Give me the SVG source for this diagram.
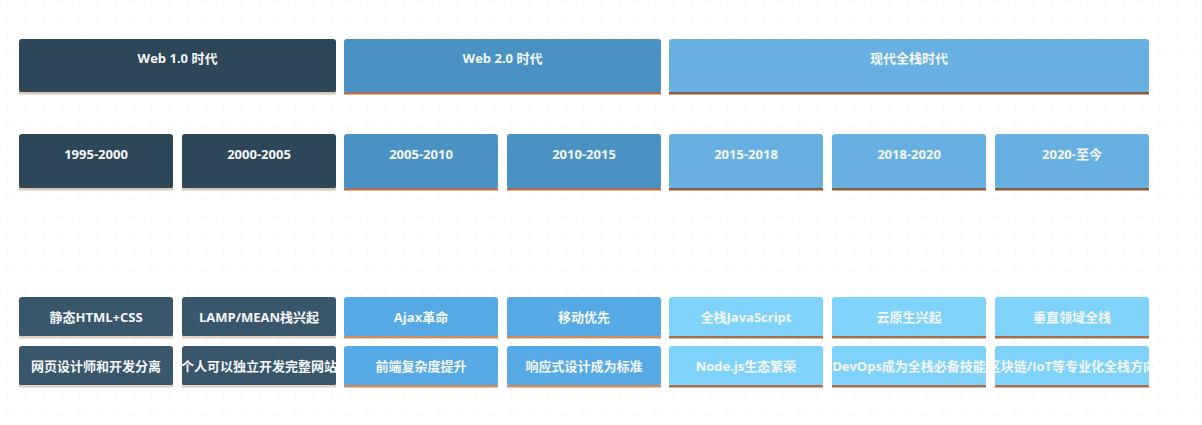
<svg xmlns="http://www.w3.org/2000/svg" width="1202" height="425" viewBox="0 0 1202 425">
<defs>
<pattern id="dots" x="0" y="0" width="18" height="18" patternUnits="userSpaceOnUse">
<circle cx="7.7" cy="1.3" r="1" fill="#f0f0f0"/>
</pattern>
<clipPath id="c1"><rect x="182" y="346" width="154" height="40"/></clipPath>
<clipPath id="c2"><rect x="832" y="346" width="154" height="40"/></clipPath>
<clipPath id="c3"><rect x="995" y="346" width="154" height="40"/></clipPath>
</defs>
<style>
.t{font-family:"Open Sans","Noto Sans CJK SC",sans-serif;font-size:13px;font-weight:bold;fill:#f4f7fa;text-anchor:middle;dominant-baseline:central}
.d1{fill:#2d4759}.m1{fill:#4a92c3}.l1{fill:#68b0e1}
.d2{fill:#3a566a}.m2{fill:#55aae6}.l2{fill:#7fd3fb}
.bd{fill:#d6c7bc}.bm{fill:#b0714c}.bl{fill:#8e5a3a}
.bd2{fill:#e6cfc0}.bm2{fill:#d28c5c}.bl2{fill:#a8704a}
</style>
<rect width="1202" height="425" fill="#ffffff"/>
<rect width="1202" height="425" fill="url(#dots)"/>

<g id="connectors">
<line x1="96" y1="188" x2="96" y2="191" stroke="#ffffff" stroke-width="1"/>
<line x1="259" y1="188" x2="259" y2="191" stroke="#ffffff" stroke-width="1"/>
<line x1="421" y1="188" x2="421" y2="191" stroke="#ffffff" stroke-width="1"/>
<line x1="584" y1="188" x2="584" y2="191" stroke="#ffffff" stroke-width="1"/>
<line x1="746" y1="188" x2="746" y2="191" stroke="#ffffff" stroke-width="1"/>
<line x1="909" y1="188" x2="909" y2="191" stroke="#ffffff" stroke-width="1"/>
<line x1="1072" y1="188" x2="1072" y2="191" stroke="#ffffff" stroke-width="1"/>
</g>

<!-- Row 1 -->
<g id="era-web1">
<rect class="d1" x="19" y="39" width="317" height="54" rx="3"/>
<rect class="bd" x="19" y="92" width="317" height="2.5"/>
<text class="t" x="177.5" y="58">Web 1.0 时代</text>
</g>
<g id="era-web2">
<rect class="m1" x="344" y="39" width="317" height="54" rx="3"/>
<rect class="bm" x="344" y="92" width="317" height="2.5"/>
<text class="t" x="502.5" y="58">Web 2.0 时代</text>
</g>
<g id="era-modern">
<rect class="l1" x="669" y="39" width="480" height="54" rx="3"/>
<rect class="bl" x="669" y="92" width="480" height="2.5"/>
<text class="t" x="909" y="58">现代全栈时代</text>
</g>

<!-- Row 2 -->
<g id="p1995">
<rect class="d1" x="19" y="134" width="154" height="55" rx="3"/>
<rect class="bd" x="19" y="188" width="154" height="2.5"/>
<text class="t" x="96" y="153.5">1995-2000</text>
</g>
<g id="p2000">
<rect class="d1" x="182" y="134" width="154" height="55" rx="3"/>
<rect class="bd" x="182" y="188" width="154" height="2.5"/>
<text class="t" x="259" y="153.5">2000-2005</text>
</g>
<g id="p2005">
<rect class="m1" x="344" y="134" width="154" height="55" rx="3"/>
<rect class="bm" x="344" y="188" width="154" height="2.5"/>
<text class="t" x="421" y="153.5">2005-2010</text>
</g>
<g id="p2010">
<rect class="m1" x="507" y="134" width="154" height="55" rx="3"/>
<rect class="bm" x="507" y="188" width="154" height="2.5"/>
<text class="t" x="584" y="153.5">2010-2015</text>
</g>
<g id="p2015">
<rect class="l1" x="669" y="134" width="154" height="55" rx="3"/>
<rect class="bl" x="669" y="188" width="154" height="2.5"/>
<text class="t" x="746" y="153.5">2015-2018</text>
</g>
<g id="p2018">
<rect class="l1" x="832" y="134" width="154" height="55" rx="3"/>
<rect class="bl" x="832" y="188" width="154" height="2.5"/>
<text class="t" x="909" y="153.5">2018-2020</text>
</g>
<g id="p2020">
<rect class="l1" x="995" y="134" width="154" height="55" rx="3"/>
<rect class="bl" x="995" y="188" width="154" height="2.5"/>
<text class="t" x="1072" y="153.5">2020-至今</text>
</g>

<!-- Row 3 -->
<g id="f1">
<rect class="d2" x="19" y="297" width="154" height="40" rx="3"/>
<rect class="bd2" x="19" y="336" width="154" height="2.5"/>
<text class="t" x="96" y="316.5">静态HTML+CSS</text>
</g>
<g id="f2">
<rect class="d2" x="182" y="297" width="154" height="40" rx="3"/>
<rect class="bd2" x="182" y="336" width="154" height="2.5"/>
<text class="t" x="259" y="316.5">LAMP/MEAN栈兴起</text>
</g>
<g id="f3">
<rect class="m2" x="344" y="297" width="154" height="40" rx="3"/>
<rect class="bm2" x="344" y="336" width="154" height="2.5"/>
<text class="t" x="421" y="316.5">Ajax革命</text>
</g>
<g id="f4">
<rect class="m2" x="507" y="297" width="154" height="40" rx="3"/>
<rect class="bm2" x="507" y="336" width="154" height="2.5"/>
<text class="t" x="584" y="316.5">移动优先</text>
</g>
<g id="f5">
<rect class="l2" x="669" y="297" width="154" height="40" rx="3"/>
<rect class="bl2" x="669" y="336" width="154" height="2.5"/>
<text class="t" x="746" y="316.5">全栈JavaScript</text>
</g>
<g id="f6">
<rect class="l2" x="832" y="297" width="154" height="40" rx="3"/>
<rect class="bl2" x="832" y="336" width="154" height="2.5"/>
<text class="t" x="909" y="316.5">云原生兴起</text>
</g>
<g id="f7">
<rect class="l2" x="995" y="297" width="154" height="40" rx="3"/>
<rect class="bl2" x="995" y="336" width="154" height="2.5"/>
<text class="t" x="1072" y="316.5">垂直领域全栈</text>
</g>

<!-- Row 4 -->
<g id="g1">
<rect class="d2" x="19" y="346" width="154" height="40" rx="3"/>
<rect class="bd2" x="19" y="385" width="154" height="2.5"/>
<text class="t" x="96" y="365.5">网页设计师和开发分离</text>
</g>
<g id="g2">
<rect class="d2" x="182" y="346" width="154" height="40" rx="3"/>
<rect class="bd2" x="182" y="385" width="154" height="2.5"/>
<text class="t" x="259" y="365.5" clip-path="url(#c1)">个人可以独立开发完整网站</text>
</g>
<g id="g3">
<rect class="m2" x="344" y="346" width="154" height="40" rx="3"/>
<rect class="bm2" x="344" y="385" width="154" height="2.5"/>
<text class="t" x="421" y="365.5">前端复杂度提升</text>
</g>
<g id="g4">
<rect class="m2" x="507" y="346" width="154" height="40" rx="3"/>
<rect class="bm2" x="507" y="385" width="154" height="2.5"/>
<text class="t" x="584" y="365.5">响应式设计成为标准</text>
</g>
<g id="g5">
<rect class="l2" x="669" y="346" width="154" height="40" rx="3"/>
<rect class="bl2" x="669" y="385" width="154" height="2.5"/>
<text class="t" x="746" y="365.5">Node.js生态繁荣</text>
</g>
<g id="g6">
<rect class="l2" x="832" y="346" width="154" height="40" rx="3"/>
<rect class="bl2" x="832" y="385" width="154" height="2.5"/>
<text class="t" x="909" y="365.5" clip-path="url(#c2)">DevOps成为全栈必备技能</text>
</g>
<g id="g7">
<rect class="l2" x="995" y="346" width="154" height="40" rx="3"/>
<rect class="bl2" x="995" y="385" width="154" height="2.5"/>
<text class="t" x="1072" y="365.5" clip-path="url(#c3)">区块链/IoT等专业化全栈方向</text>
</g>
</svg>
